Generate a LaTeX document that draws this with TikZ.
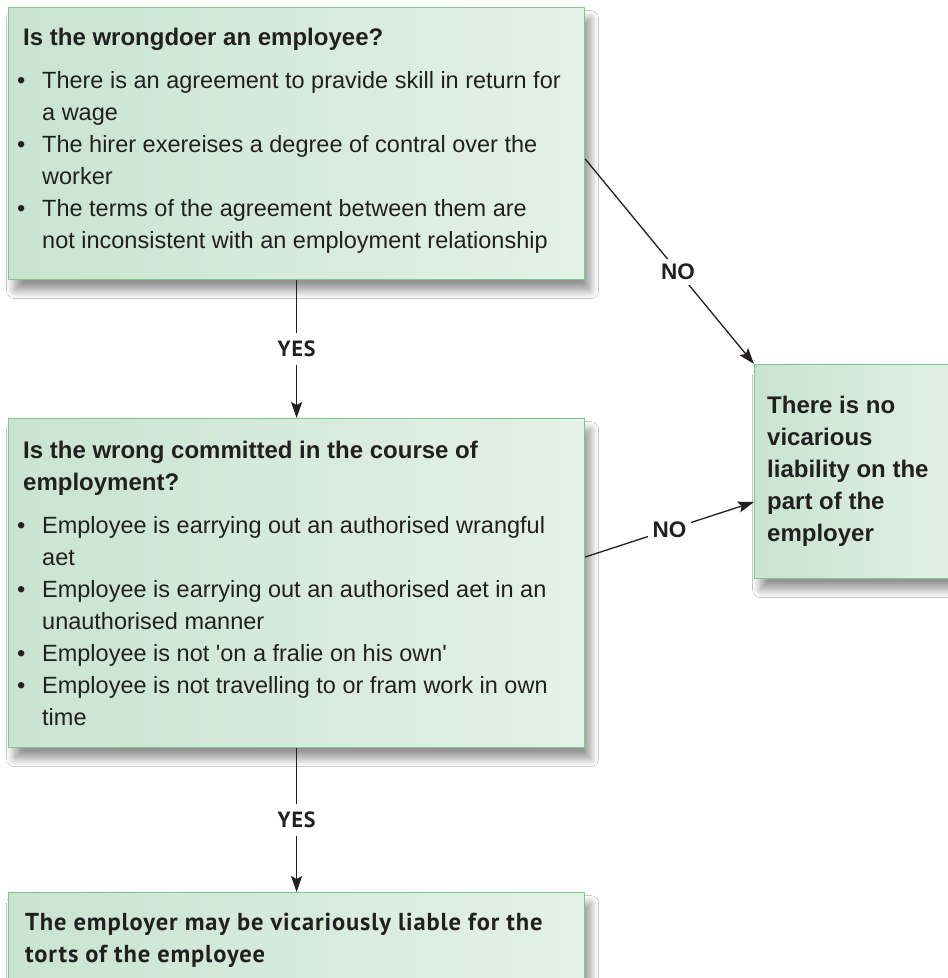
\documentclass[tikz,border=0pt]{standalone}
\usepackage{fontspec}
\setmainfont{Liberation Sans}
\newfontfamily\myriadlike[LetterSpace=3.5]{PT Sans}
\usetikzlibrary{arrows.meta,shadows.blur,calc}

\definecolor{boxline}{RGB}{125,200,143}
\definecolor{shadeL}{RGB}{200,228,208}
\definecolor{shadeR}{RGB}{228,241,232}
\definecolor{ink}{RGB}{35,31,32}

% bullet item and its continuation line
\newcommand\bitem[1]{\hbox to 25pt{\textbullet\hfil}#1}
\newcommand\bcont[1]{\hspace*{25pt}#1}
\newcommand\headfont{\fontsize{24}{32}\selectfont\bfseries}

\tikzset{
  panel/.style={draw=boxline, line width=1.2pt,
    left color=shadeL, middle color=white, right color=shadeR,
    blur shadow={shadow xshift=6pt, shadow yshift=-11pt,
      shadow blur radius=8pt, shadow blur steps=14, shadow opacity=42},
    minimum width=576pt, inner sep=0pt, anchor=north west},
  bodytext/.style={anchor=north west, inner sep=0pt, align=left, text=ink,
    font=\fontsize{23.5}{32}\selectfont},
  headtext/.style={anchor=north west, inner sep=0pt, align=left, text=ink,
    font=\headfont},
  restext/.style={anchor=north west, inner sep=0pt, align=left, text=ink,
    font=\myriadlike\fontsize{24.5}{32}\selectfont\bfseries},
  flow/.style={line width=1.3pt, draw=ink,
    -{Stealth[length=16pt, width=11pt, inset=3pt]}},
  yeslabel/.style={fill=white, text=ink, inner xsep=4pt, inner ysep=8pt,
    font=\myriadlike\fontsize{22}{24}\selectfont\bfseries},
  nolabel/.style={fill=white, text=ink, inner sep=5pt,
    font=\fontsize{22.5}{24}\selectfont\bfseries},
}

\begin{document}
\begin{tikzpicture}[x=1pt, y=-1pt]
\useasboundingbox (0,0) rectangle (948,978);
\clip (0,0) rectangle (948,978);
\fill[white] (0,0) rectangle (948,978);

% boxes
\node[panel, minimum height=272pt] (q1) at (8,7) {};
\node[panel, minimum height=329pt] (q2) at (8,418) {};
\node[panel, minimum width=220pt, minimum height=214pt] (nol) at (754,364) {};
\node[panel, minimum height=120pt] (res) at (8,892) {};

% box texts
\node[bodytext] (q1t) at (17,22.6) {%
  \strut\hspace*{6pt}{\headfont Is the wrongdoer an employee?}\\[11pt]
  \bitem{There is an agreement to pravide skill in return for}\\
  \bcont{a wage}\\
  \bitem{The hirer exereises a degree of contral over the}\\
  \bcont{worker}\\
  \bitem{The terms of the agreement between them are}\\
  \bcont{not inconsistent with an employment relationship}};

\node[bodytext] (q2t) at (17,435.6) {%
  \strut\hspace*{6pt}{\headfont Is the wrong committed in the course of}\\
  \hspace*{6pt}{\headfont employment?}\\[11pt]
  \bitem{Employee is earrying out an authorised wrangful}\\
  \bcont{aet}\\
  \bitem{Employee is earrying out an authorised aet in an}\\
  \bcont{unauthorised manner}\\
  \bitem{Employee is not \textquotesingle on a fralie on his own\textquotesingle}\\
  \bitem{Employee is not travelling to or fram work in own}\\
  \bcont{time}};

\node[headtext] (nolt) at (767,390.6) {%
  \strut There is no\\ vicarious\\ liability on the\\ part of the\\ employer};

\node[restext] (rest) at (25,907.6) {%
  \strut The employer may be vicariously liable for the\\ torts of the employee};

% connector end points on the box edges
\coordinate (q1out) at ($(q1.north east)+(0,152)$);
\coordinate (q2out) at ($(q2.north east)+(0,139)$);
\coordinate (nolin) at ($(nol.north west)+(0,138)$);

% connectors
\draw[flow] (q1.south) -- node[yeslabel] (yes1) {YES} (q2.north);
\draw[flow] (q2.south) -- node[yeslabel] (yes2) {YES} (res.north);
\draw[flow] (q1out) -- node[nolabel, pos=0.55] (no1) {NO} (nol.north west);
\draw[flow] (q2out) -- node[nolabel] (no2) {NO} (nolin);
\end{tikzpicture}
\end{document}
